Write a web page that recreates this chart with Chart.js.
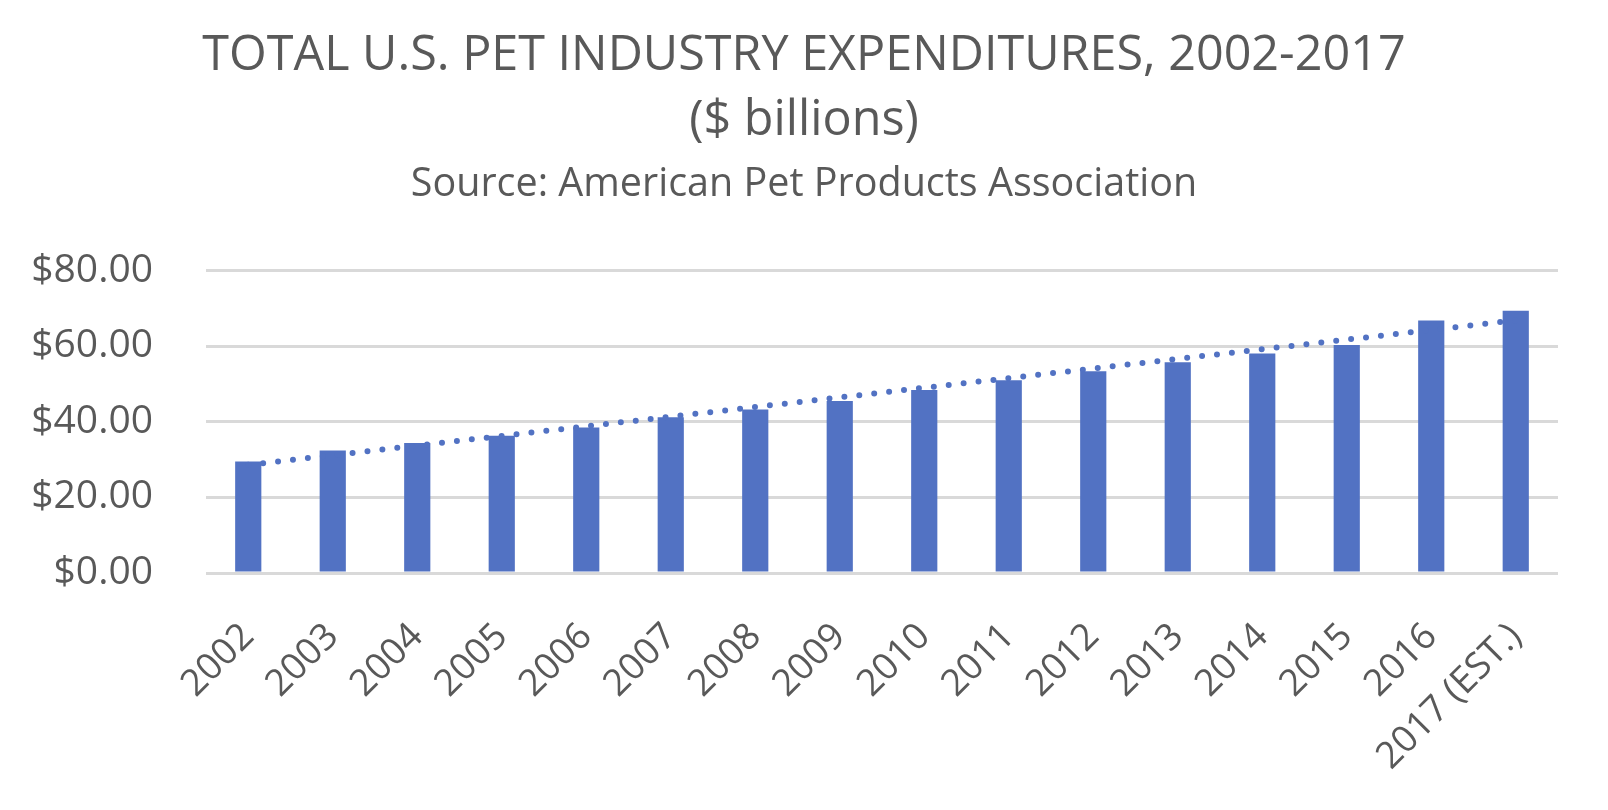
<!DOCTYPE html>
<html>
<head>
<meta charset="utf-8">
<script src="https://cdn.jsdelivr.net/npm/chart.js@4/dist/chart.umd.min.js"></script>
<style>
  html, body { margin: 0; padding: 0; background: #fff; }
  #wrap { width: 1608px; height: 810px; position: relative; }
</style>
</head>
<body>
<div id="wrap"><canvas id="chart"></canvas></div>
<script>
// values ($ billions)
const years = ['2002', '2003', '2004', '2005', '2006', '2007', '2008', '2009',
               '2010', '2011', '2012', '2013', '2014', '2015', '2016', '2017 (EST.)'];
const spending = [29.5, 32.4, 34.4, 36.3, 38.5, 41.2, 43.2, 45.5,
                  48.35, 50.96, 53.33, 55.72, 58.04, 60.28, 66.75, 69.36];
// dotted trend line: ends, middle left empty
const trend = [28.6, null, null, null, null, null, null, null,
               null, null, null, null, null, null, null, 66.8];
const yTicks = [0, 20, 40, 60, 80];

const grey = '#595959';
const blue = '#5272C3';
const fontFamily = "'Open Sans', 'Noto Sans', sans-serif";

const ctx = document.getElementById('chart').getContext('2d');

new Chart(ctx, {
    type: 'bar',
    data: {
        labels: years,
        datasets: [{
            type: 'line',
            label: 'Trend',
            data: trend,
            spanGaps: true,
            borderColor: blue,
            borderWidth: 6,
            borderDash: [0, 15],
            borderCapStyle: 'round',
            pointRadius: 0,
            fill: false,
            order: 0
        }, {
            label: 'Expenditures',
            data: spending,
            backgroundColor: blue,
            categoryPercentage: 1,
            barPercentage: 0.31,
            order: 1
        }]
    },
    options: {
        responsive: true,
        maintainAspectRatio: false,
        devicePixelRatio: 1,
        animation: false,
        layout: { padding: 0 },
        plugins: {
            legend: { display: false },
            tooltip: { enabled: false },
            title: {
                display: true,
                text: ['TOTAL U.S. PET INDUSTRY EXPENDITURES, 2002-2017', '($ billions)'],
                color: grey,
                font: { family: fontFamily, size: 48.5, weight: 'normal', lineHeight: 1.33 },
                padding: { top: 24, bottom: 4 }
            },
            subtitle: {
                display: true,
                text: 'Source: American Pet Products Association',
                color: grey,
                font: { family: fontFamily, size: 39.5, weight: 'normal', lineHeight: 1.2 },
                padding: { top: 4, bottom: 62 }
            }
        },
        scales: {
            x: {
                grid: { display: false, drawTicks: false },
                border: { display: false },
                afterFit: (scale) => { scale.height = 237; },
                ticks: {
                    color: grey,
                    font: { family: fontFamily, size: 37 },
                    minRotation: 45,
                    maxRotation: 45,
                    padding: 42
                }
            },
            y: {
                min: 0,
                max: 80,
                afterFit: (scale) => { scale.width = 206; },
                afterBuildTicks: (scale) => { scale.ticks = yTicks.map(v => ({ value: v })); },
                grid: { color: '#d9d9d9', lineWidth: 3, drawTicks: false },
                border: { display: false },
                ticks: {
                    color: grey,
                    font: { family: fontFamily, size: 39 },
                    padding: 53,
                    callback: (v) => '$' + v.toFixed(2)
                }
            },
            // empty right-hand margin so the titles stay centred on the page
            yRight: {
                position: 'right',
                min: 0,
                max: 80,
                afterFit: (scale) => { scale.width = 50; },
                grid: { display: false, drawTicks: false },
                border: { display: false },
                ticks: { display: false }
            }
        }
    }
});
</script>
</body>
</html>
